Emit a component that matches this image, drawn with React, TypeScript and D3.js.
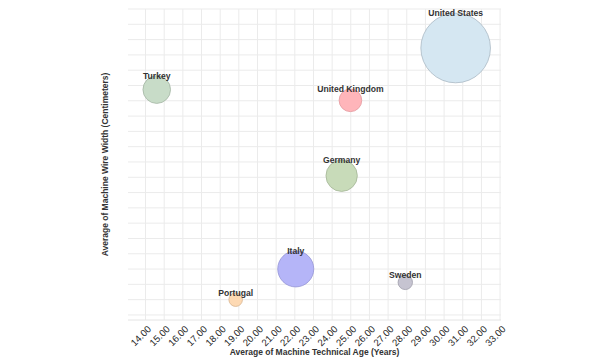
import { useEffect, useRef } from 'react';
import * as d3 from 'd3';

// bubble data
const countries = ['United States', 'Turkey', 'United Kingdom', 'Germany', 'Italy', 'Portugal', 'Sweden'];
const techAge = [30.62, 14.6, 24.98, 24.51, 22.05, 18.83, 27.92];
const wireWidth = [1.745, 1.473, 1.403, 0.91, 0.301, 0.1, 0.213];
const machineCount = [1210, 190, 128, 246, 324, 46, 52];
const fills = ['#d5e7f2', '#c8dcc8', '#ffb5ba', '#c8dbb9', '#b5b5f8', '#fdd9b3', '#c6c4d1'];
const strokes = ['#a9b9c4', '#a3b5a3', '#e39aa0', '#a3b596', '#9494d6', '#d8b590', '#a09eab'];

const xTicks = d3.range(14, 34, 1);
const yTicks = d3.range(0, 2.01, 0.1);

const CHART = {
    width: 600,
    height: 363,
    margin: { left: 128, right: 99, top: 9, bottom: 43 }
};

export default function App() {
    const svgRef = useRef<SVGSVGElement>(null);

    useEffect(() => {
        const svg = d3.select(svgRef.current);
        svg.selectAll('*').remove();

        const { width, height, margin } = CHART;
        const x0 = margin.left;
        const x1 = width - margin.right;
        const y0 = height - margin.bottom;
        const y1 = margin.top;

        const xScale = d3.scaleLinear().domain([13.06, 33.05]).range([x0, x1]);
        const yScale = d3.scaleLinear().domain([-0.033, 2.0]).range([y0, y1]);
        const rScale = d3.scaleSqrt().domain([0, d3.max(machineCount)!]).range([0, 34.8]);

        const grid = svg.append('g');
        grid.selectAll('line.v').data(xTicks).enter().append('line')
            .attr('x1', d => xScale(d)).attr('x2', d => xScale(d))
            .attr('y1', y1).attr('y2', y0)
            .attr('stroke', '#ebebeb').attr('stroke-width', 1);
        grid.selectAll('line.h').data(yTicks).enter().append('line')
            .attr('x1', x0).attr('x2', x1)
            .attr('y1', d => yScale(d)).attr('y2', d => yScale(d))
            .attr('stroke', '#ebebeb').attr('stroke-width', 1);
        grid.append('line')
            .attr('x1', x0).attr('x2', x1).attr('y1', y0).attr('y2', y0)
            .attr('stroke', '#e4e4e4');

        // x tick labels
        svg.append('g').selectAll('text').data(xTicks).enter().append('text')
            .attr('transform', d => `translate(${xScale(d) + 1.5}, ${y0 + 5}) rotate(-45)`)
            .attr('text-anchor', 'end')
            .attr('dy', '0.7em')
            .attr('font-family', 'Liberation Sans, Arial, sans-serif')
            .attr('font-size', 9.6)
            .attr('fill', '#262626')
            .text(d => d.toFixed(2));

        const idx = d3.range(countries.length);
        const bubbles = svg.append('g');
        bubbles.selectAll('circle').data(idx).enter().append('circle')
            .attr('cx', i => xScale(techAge[i]))
            .attr('cy', i => yScale(wireWidth[i]))
            .attr('r', i => rScale(machineCount[i]))
            .attr('fill', i => fills[i])
            .attr('stroke', i => strokes[i])
            .attr('stroke-width', 0.8);

        bubbles.selectAll('text').data(idx).enter().append('text')
            .attr('x', i => xScale(techAge[i]))
            .attr('y', i => yScale(wireWidth[i]) - rScale(machineCount[i]) + 3)
            .attr('text-anchor', 'middle')
            .attr('font-family', 'Liberation Sans, Arial, sans-serif')
            .attr('font-size', 8.6)
            .attr('font-weight', 'bold')
            .attr('fill', '#333')
            .text(i => countries[i]);

        // axis titles
        svg.append('text')
            .attr('x', (x0 + x1) / 2)
            .attr('y', 355)
            .attr('text-anchor', 'middle')
            .attr('font-family', 'Liberation Sans, Arial, sans-serif')
            .attr('font-size', 8.5)
            .attr('font-weight', 'bold')
            .attr('fill', '#333')
            .text('Average of Machine Technical Age (Years)');

        svg.append('text')
            .attr('transform', `translate(108, ${(y0 + y1) / 2}) rotate(-90)`)
            .attr('text-anchor', 'middle')
            .attr('font-family', 'Liberation Sans, Arial, sans-serif')
            .attr('font-size', 8.5)
            .attr('font-weight', 'bold')
            .attr('fill', '#333')
            .text('Average of Machine Wire Width (Centimeters)');
    }, []);

    return (
        <svg ref={svgRef} width={CHART.width} height={CHART.height}
            style={{ position: 'absolute', left: 0, top: 0, background: '#fff' }} />
    );
}
